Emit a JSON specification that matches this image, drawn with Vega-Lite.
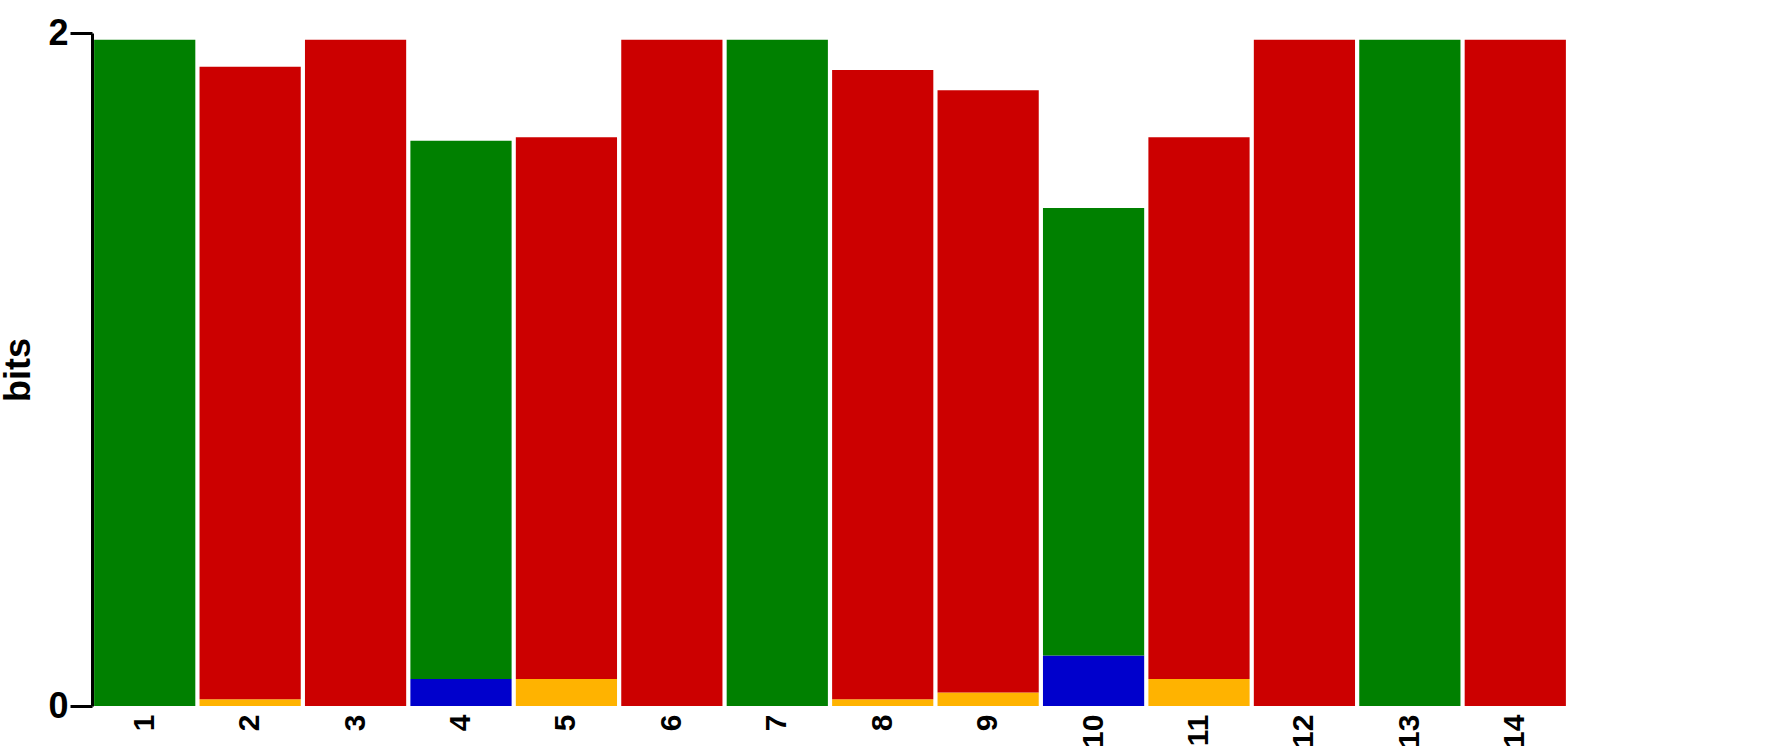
{
"$schema":"https://vega.github.io/schema/vega-lite/v6.json",
"autosize":{"type":"fit","contains":"padding"},
"width":1766,"height":748,
"padding":{"left":0,"top":15,"right":198,"bottom":0},
"config":{"view":{"stroke":null}},
"data":{"values":[
{"pos":"1","letter":"T","bits":1.98},
{"pos":"2","letter":"G","bits":0.02},{"pos":"2","letter":"A","bits":1.88},
{"pos":"3","letter":"A","bits":1.98},
{"pos":"4","letter":"C","bits":0.08},{"pos":"4","letter":"T","bits":1.6},
{"pos":"5","letter":"G","bits":0.08},{"pos":"5","letter":"A","bits":1.61},
{"pos":"6","letter":"A","bits":1.98},
{"pos":"7","letter":"T","bits":1.98},
{"pos":"8","letter":"G","bits":0.02},{"pos":"8","letter":"A","bits":1.87},
{"pos":"9","letter":"G","bits":0.04},{"pos":"9","letter":"A","bits":1.79},
{"pos":"10","letter":"C","bits":0.15},{"pos":"10","letter":"T","bits":1.33},
{"pos":"11","letter":"G","bits":0.08},{"pos":"11","letter":"A","bits":1.61},
{"pos":"12","letter":"A","bits":1.98},
{"pos":"13","letter":"T","bits":1.98},
{"pos":"14","letter":"A","bits":1.98}
]},
"transform":[{"stack":"bits","groupby":["pos"],"sort":[{"field":"bits","order":"ascending"}],"as":["y0","y1"]}],
"mark":{"type":"bar"},
"encoding":{
"x":{"field":"pos","type":"ordinal","sort":null,"scale":{"paddingInner":0.04,"paddingOuter":0.02},
 "axis":{"title":null,"labelAngle":-90,"labelFont":"Liberation Sans","labelFontSize":30,"labelFontWeight":"bold","labelColor":"black","domain":false,"ticks":false,"labelPadding":8,"labelAlign":"right","labelBaseline":"middle"}},
"y":{"field":"y0","type":"quantitative","scale":{"domain":[0,2]},
  "axis":{"title":"bits","format":"d","titleFont":"Liberation Sans","titleFontSize":36,"titleFontWeight":"bold","titleColor":"black","values":[0,1,2],"labelFont":"Liberation Sans","labelFontSize":36,"labelFontWeight":"bold","labelColor":"black","grid":false,"domainColor":"black","domainWidth":3,"tickColor":"black","tickWidth":3,"tickSize":22,"titlePadding":10}},
"y2":{"field":"y1"},
"color":{"field":"letter","type":"nominal","scale":{"domain":["A","C","G","T"],"range":["#CC0000","#0000CC","#FFB300","#008000"]},"legend":null}
}
}
